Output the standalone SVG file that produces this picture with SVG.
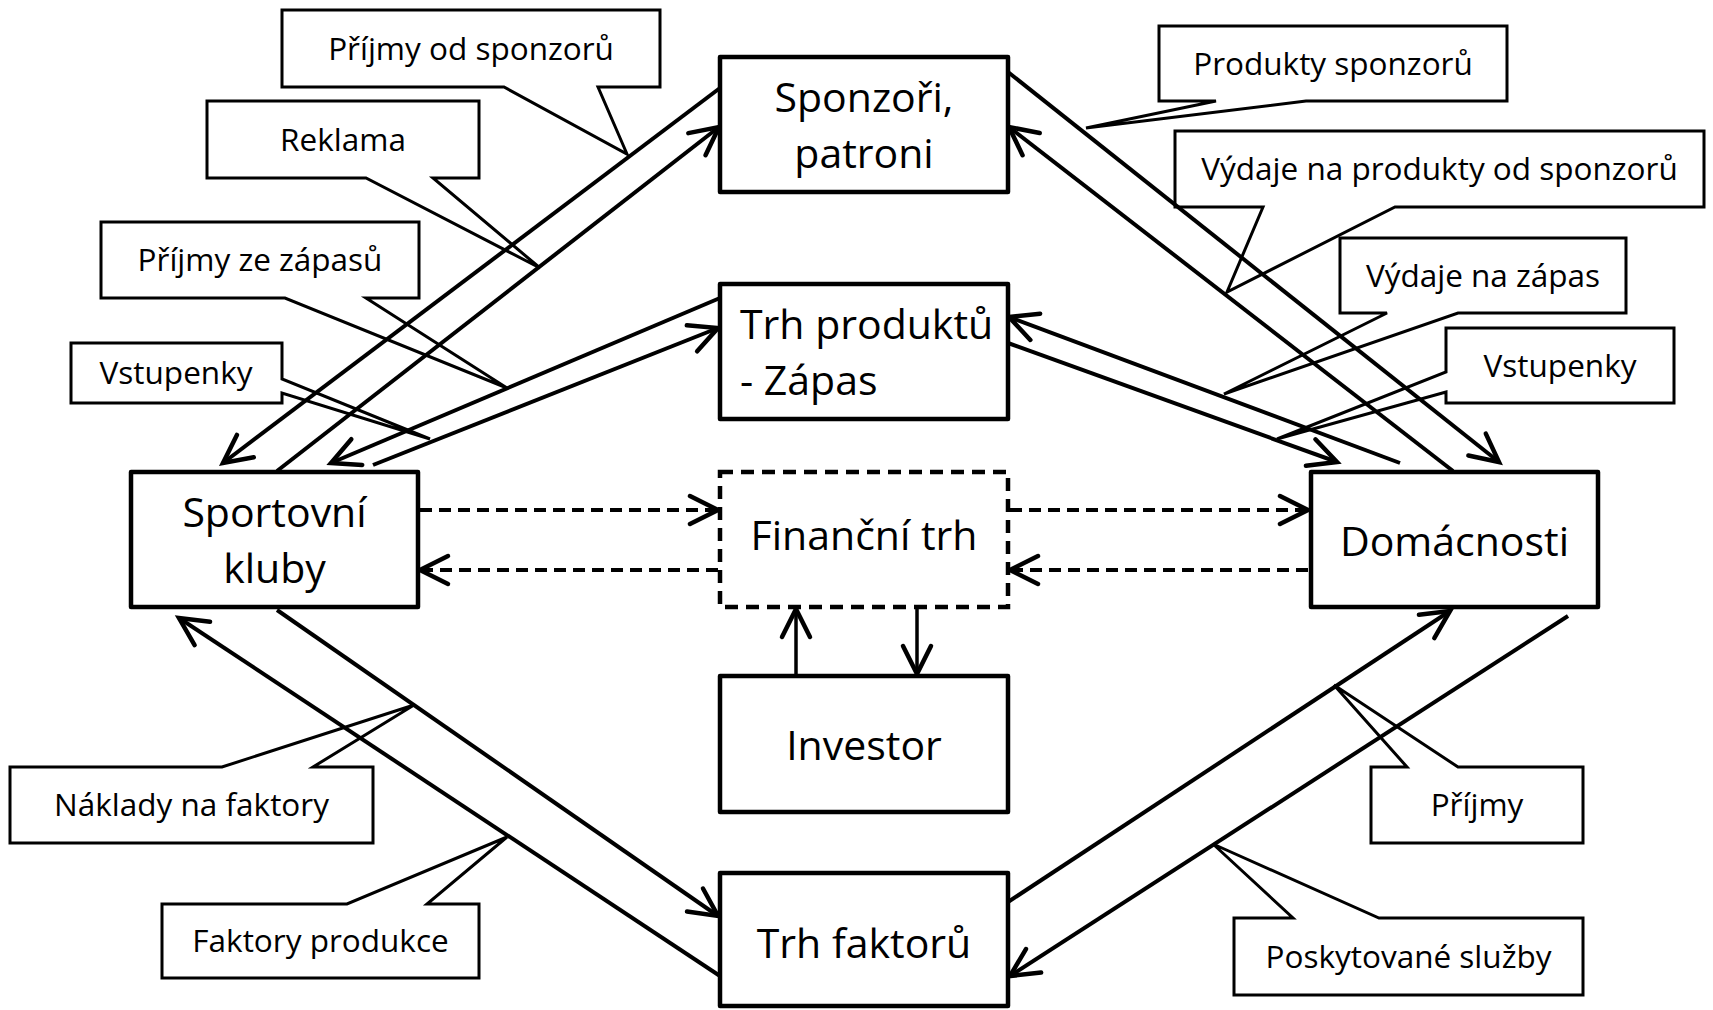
<svg xmlns="http://www.w3.org/2000/svg" width="1713" height="1010" viewBox="0 0 1713 1010">
<style>
.box{fill:#fff;stroke:#000;stroke-width:4.5;stroke-linejoin:round}
.dbox{fill:#fff;stroke:#000;stroke-width:4.5;stroke-dasharray:13 8}
.call{fill:none;stroke:#000;stroke-width:3;stroke-linejoin:miter}
.ln{fill:none;stroke:#000;stroke-width:4}
.dl{fill:none;stroke:#000;stroke-width:4;stroke-dasharray:12 7}
.vl{fill:none;stroke:#000;stroke-width:3.5}
.t{font-family:"Open Sans","Noto Sans",sans-serif;font-size:41px;fill:#000;text-anchor:middle}
.c{font-family:"Open Sans","Noto Sans",sans-serif;font-size:31.5px;fill:#000;text-anchor:middle}
.s{text-anchor:start}
</style>
<defs>
<marker id="ah" markerUnits="userSpaceOnUse" markerWidth="40" markerHeight="40" viewBox="-34 -20 40 40" refX="0" refY="0" orient="auto" overflow="visible">
<path d="M-28,-14 L0,0 L-28,14" fill="none" stroke="#000" stroke-width="4.5" stroke-linecap="round" stroke-linejoin="miter" stroke-dasharray="none"/>
</marker>
</defs>

<g id="connectors">
<line class="ln" x1="720" y1="88" x2="223" y2="463" marker-end="url(#ah)"/>
<line class="ln" x1="277" y1="471" x2="719" y2="127" marker-end="url(#ah)"/>
<line class="ln" x1="720" y1="298" x2="331" y2="463" marker-end="url(#ah)"/>
<line class="ln" x1="373" y1="465" x2="718" y2="328" marker-end="url(#ah)"/>
<line class="ln" x1="1008" y1="72" x2="1499" y2="462" marker-end="url(#ah)"/>
<line class="ln" x1="1453" y1="471" x2="1009" y2="127" marker-end="url(#ah)"/>
<line class="ln" x1="1400" y1="463" x2="1009" y2="317" marker-end="url(#ah)"/>
<line class="ln" x1="1008" y1="343" x2="1337" y2="462" marker-end="url(#ah)"/>
<line class="dl" x1="420" y1="510" x2="718" y2="510" marker-end="url(#ah)"/>
<line class="dl" x1="718" y1="570" x2="420" y2="570" marker-end="url(#ah)"/>
<line class="dl" x1="1010" y1="510" x2="1308" y2="510" marker-end="url(#ah)"/>
<line class="dl" x1="1308" y1="570" x2="1010" y2="570" marker-end="url(#ah)"/>
<line class="vl" x1="796" y1="674" x2="796" y2="609" marker-end="url(#ah)"/>
<line class="vl" x1="917" y1="609" x2="917" y2="674" marker-end="url(#ah)"/>
<line class="ln" x1="277" y1="610" x2="718" y2="916" marker-end="url(#ah)"/>
<line class="ln" x1="720" y1="976" x2="179" y2="618" marker-end="url(#ah)"/>
<line class="ln" x1="1008" y1="902" x2="1450" y2="611" marker-end="url(#ah)"/>
<line class="ln" x1="1568" y1="616" x2="1010" y2="976" marker-end="url(#ah)"/>
</g>

<g id="sponzori">
<rect class="box" x="720" y="57" width="288" height="135"/>
<text class="t" x="864" y="112">Sponzoři,</text>
<text class="t" x="864" y="168">patroni</text>
</g>
<g id="trh-produktu">
<rect class="box" x="720" y="284" width="288" height="135"/>
<text class="t s" x="740" y="339">Trh produktů</text>
<text class="t s" x="740" y="395">- Zápas</text>
</g>
<g id="financni-trh">
<rect class="dbox" x="720" y="472" width="288" height="135"/>
<text class="t" x="864" y="550">Finanční trh</text>
</g>
<g id="investor">
<rect class="box" x="720" y="676" width="288" height="136"/>
<text class="t" x="864" y="760">Investor</text>
</g>
<g id="trh-faktoru">
<rect class="box" x="720" y="873" width="288" height="133"/>
<text class="t" x="864" y="958">Trh faktorů</text>
</g>
<g id="sportovni-kluby">
<rect class="box" x="131" y="472" width="287" height="135"/>
<text class="t" x="274.5" y="527">Sportovní</text>
<text class="t" x="274.5" y="583">kluby</text>
</g>
<g id="domacnosti">
<rect class="box" x="1311" y="472" width="287" height="135"/>
<text class="t" x="1454.5" y="556">Domácnosti</text>
</g>

<g id="callout-prijmy-od-sponzoru">
<path class="call" d="M282,10 H660 V87 H598 L627,154 L504,87 H282 Z"/>
<text class="c" x="471" y="60">Příjmy od sponzorů</text>
</g>
<g id="callout-reklama">
<path class="call" d="M207,101 H479 V178 H433 L540,268 L366,178 H207 Z"/>
<text class="c" x="343" y="151">Reklama</text>
</g>
<g id="callout-prijmy-ze-zapasu">
<path class="call" d="M101,222 H419 V298 H366 L507,388 L285,298 H101 Z"/>
<text class="c" x="260" y="271">Příjmy ze zápasů</text>
</g>
<g id="callout-vstupenky-l">
<path class="call" d="M71,343 H282 V379 L430,439 L282,393 V403 H71 Z"/>
<text class="c" x="176" y="384">Vstupenky</text>
</g>
<g id="callout-produkty-sponzoru">
<path class="call" d="M1159,26 H1507 V101 H1306 L1086,128 L1216,101 H1159 Z"/>
<text class="c" x="1333" y="75">Produkty sponzorů</text>
</g>
<g id="callout-vydaje-produkty">
<path class="call" d="M1175,131 H1704 V207 H1395 L1227,292 L1263,207 H1175 Z"/>
<text class="c" x="1439.5" y="180">Výdaje na produkty od sponzorů</text>
</g>
<g id="callout-vydaje-zapas">
<path class="call" d="M1340,238 H1626 V313 H1458 L1224,394 L1387,313 H1340 Z"/>
<text class="c" x="1483" y="287">Výdaje na zápas</text>
</g>
<g id="callout-vstupenky-r">
<path class="call" d="M1446,328 H1674 V403 H1446 V392 L1277,439 L1446,372 Z"/>
<text class="c" x="1560" y="377">Vstupenky</text>
</g>
<g id="callout-naklady">
<path class="call" d="M10,767 H222 L414,705 L313,767 H373 V843 H10 Z"/>
<text class="c" x="191.5" y="816">Náklady na faktory</text>
</g>
<g id="callout-faktory-produkce">
<path class="call" d="M162,904 H347 L507,837 L427,904 H479 V978 H162 Z"/>
<text class="c" x="320.5" y="952">Faktory produkce</text>
</g>
<g id="callout-prijmy">
<path class="call" d="M1371,767 H1407 L1334,685 L1458,767 H1583 V843 H1371 Z"/>
<text class="c" x="1477" y="816">Příjmy</text>
</g>
<g id="callout-poskytovane">
<path class="call" d="M1234,918 H1293 L1213,844 L1379,918 H1583 V995 H1234 Z"/>
<text class="c" x="1408.5" y="968">Poskytované služby</text>
</g>
</svg>
